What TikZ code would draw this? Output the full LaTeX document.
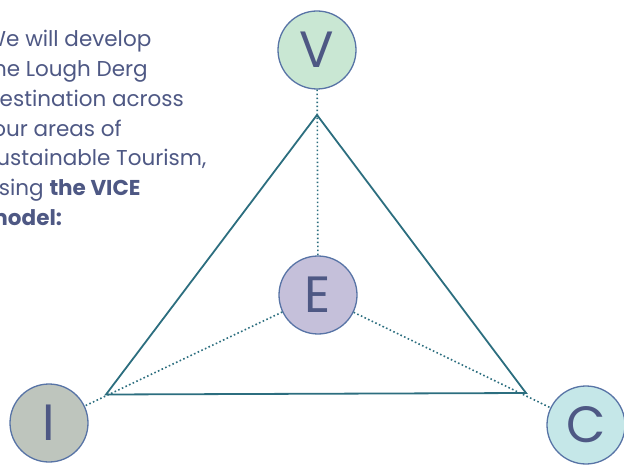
\documentclass[tikz,border=0pt]{standalone}
\usepackage{fontspec}
\setmainfont{Poppins}
\usetikzlibrary{calc, positioning}
\definecolor{ink}{HTML}{4E5884}
\definecolor{rim}{HTML}{5874A6}
\definecolor{tri}{HTML}{2C6E7F}
\definecolor{fillV}{HTML}{C9E7D3}
\definecolor{fillI}{HTML}{BEC5BD}
\definecolor{fillC}{HTML}{C5E7E8}
\definecolor{fillE}{HTML}{C5C0DA}
\tikzset{vice/.style = {draw=rim, circle, line width=1.3pt, minimum size=78pt, inner sep=0pt, text=ink, font=\fontsize{51}{51}\selectfont}}
\tikzset{edge/.style = {draw=tri, line width=1.8pt}}
\tikzset{link/.style = {draw=tri, line width=1.6pt, dash pattern=on 1.6pt off 2.4pt}}
\tikzset{blurb/.style = {anchor=base west, inner sep=0pt, text=ink, font=\fontsize{21.5}{29.7}\selectfont}}
\begin{document}
\begin{tikzpicture}[x=1pt, y=-1pt]
  \useasboundingbox (0,0) rectangle (624,465);
  \clip (0,0) rectangle (624,465);
  % text block, partly cut at the left edge
  \foreach \n/\t in {1/We will develop, 2/the Lough Derg, 3/destination across,
    4/four areas of, 5/{sustainable Tourism,}, 6/{using \textbf{the VICE}}, 7/\textbf{model:}}
  {
    \node[blurb] (line\n) at (-15, {47+29.7*(\n-1)}) {\t};
  }
  % the four circles
  \node[vice, fill=fillV] (V) at (317,50) {V};
  \node[vice, fill=fillE] (E) at (318,295) {E};
  \node[vice, fill=fillI] (I) at (49,423) {I};
  \node[vice, fill=fillC] (C) at (586,425) {C};
  % triangle corners
  \coordinate (top) at (317,115);
  \coordinate (left) at (106,394.5);
  \coordinate (right) at (526,393);
  \foreach \i/\o in {V/E, E/I, E/C}
  {
    \draw[link] (\i) -- (\o);
  }
  \draw[edge] (top) -- (left) -- (right) -- cycle;
\end{tikzpicture}
\end{document}
